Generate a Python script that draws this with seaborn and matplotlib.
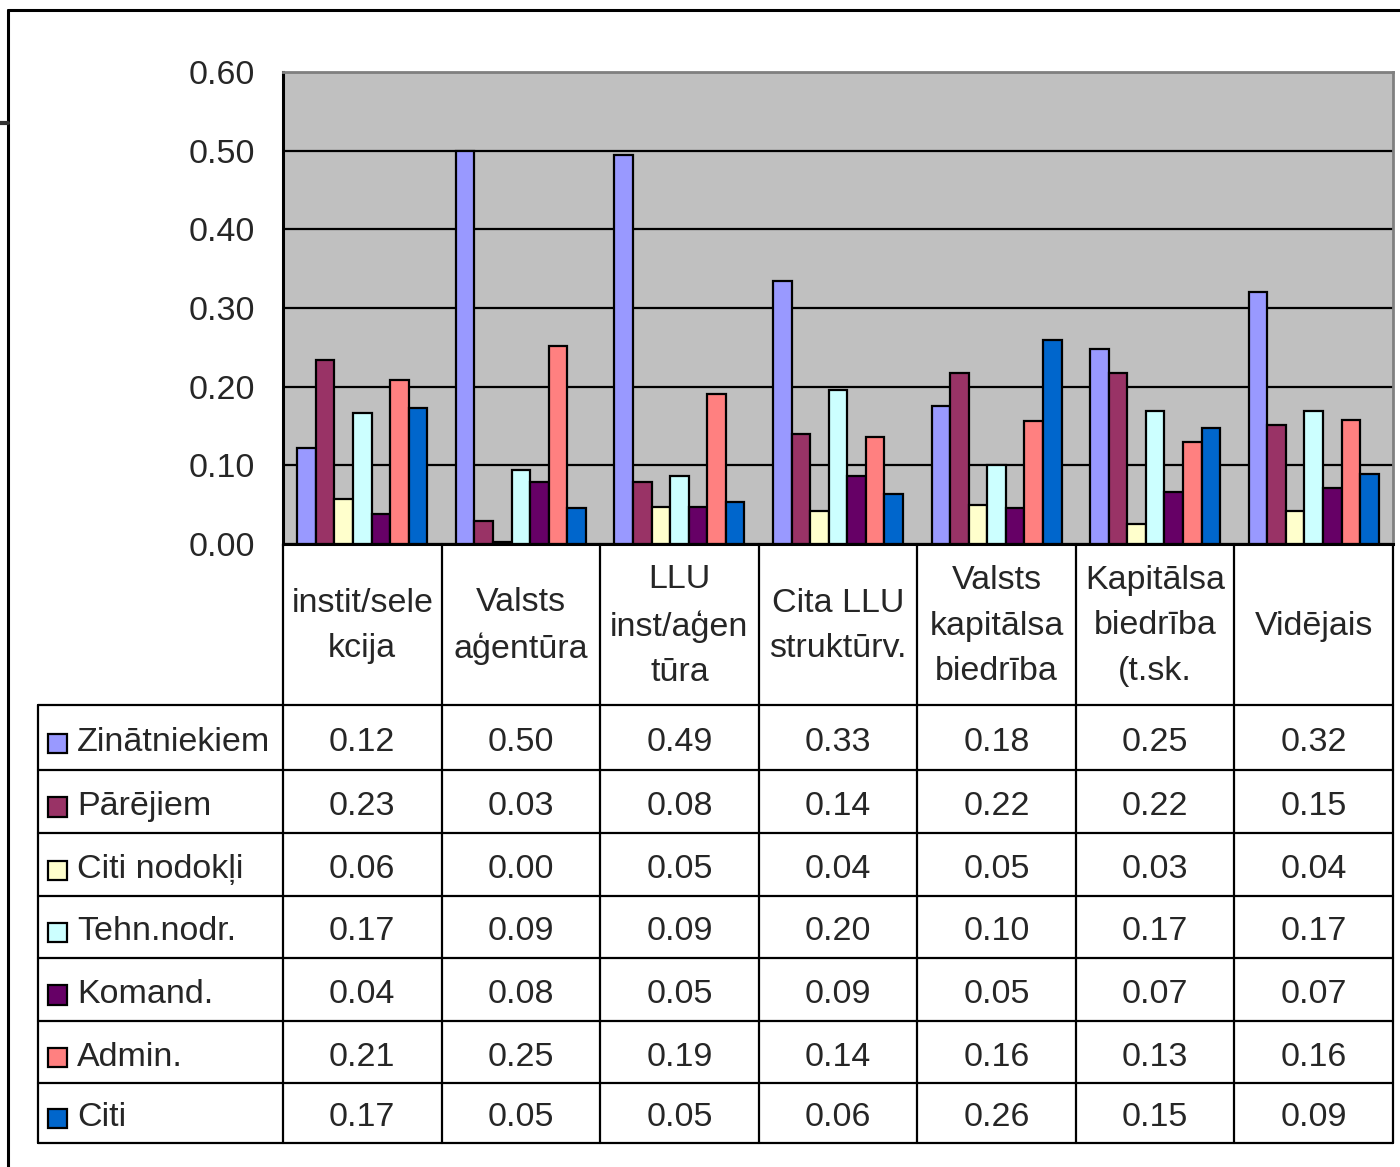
import numpy as np
import pandas as pd
import matplotlib
matplotlib.use("Agg")
import matplotlib.pyplot as plt
import seaborn as sns
from matplotlib.lines import Line2D
from matplotlib.patches import Rectangle
from matplotlib.transforms import blended_transform_factory

# ==========================
#   DATA
# ==========================
categories = ["instit/sele\nkcija", "Valsts\naģentūra", "LLU\ninst/aģen\ntūra",
              "Cita LLU\nstruktūrv.", "Valsts\nkapitālsa\nbiedrība",
              "Kapitālsa\nbiedrība\n(t.sk.", "Vidējais"]

series = ["Zinātniekiem", "Pārējiem", "Citi nodokļi", "Tehn.nodr.",
          "Komand.", "Admin.", "Citi"]

zinatniekiem = [0.122, 0.500, 0.494, 0.334, 0.176, 0.248, 0.320]
parejiem     = [0.234, 0.029, 0.079, 0.140, 0.217, 0.217, 0.151]
citi_nodokli = [0.057, 0.003, 0.047, 0.042, 0.050, 0.026, 0.042]
tehn_nodr    = [0.166, 0.094, 0.086, 0.196, 0.101, 0.169, 0.169]
komand       = [0.038, 0.079, 0.047, 0.086, 0.046, 0.066, 0.071]
admin        = [0.208, 0.252, 0.191, 0.136, 0.156, 0.130, 0.158]
citi         = [0.173, 0.046, 0.053, 0.063, 0.259, 0.147, 0.089]

colors = ["#9999FF", "#993366", "#FFFFCC", "#CCFFFF", "#660066", "#FF8080", "#0066CC"]

values = [zinatniekiem, parejiem, citi_nodokli, tehn_nodr, komand, admin, citi]

rows = []
for s, vals in zip(series, values):
    for c, v in zip(categories, vals):
        rows.append({"category": c, "series": s, "value": v})
df = pd.DataFrame(rows)

# ==========================
#   FIGURE
# ==========================
sns.set_style("white")
plt.rcParams["font.family"] = ["Liberation Sans", "DejaVu Sans"]
FS = 24.5

W, H = 1400, 1167
fig = plt.figure(figsize=(W / 100, H / 100), dpi=100)


def fx(px):
    return px / W


def fy(py):
    return 1 - py / H


ax = fig.add_axes([fx(283), fy(544), fx(1393) - fx(283), fy(72) - fy(544)])
ax.set_facecolor("#C0C0C0")

sns.barplot(data=df, x="category", y="value", hue="series",
            order=categories, hue_order=series, palette=colors,
            saturation=1, edgecolor="black", linewidth=1.6, width=0.82,
            errorbar=None, legend=False, ax=ax)

ax.set_xlim(-0.5, len(categories) - 0.5)
ax.set_ylim(0, 0.6)
ax.set_yticks(np.arange(0, 0.61, 0.1))
ax.set_yticklabels([f"{t:.2f}" for t in np.arange(0, 0.61, 0.1)], fontsize=FS)
ax.tick_params(axis="y", length=6, width=1.6, color="black", pad=14)
ax.set_xticks([])
ax.set_xlabel("")
ax.set_ylabel("")

ax.set_axisbelow(True)
ax.yaxis.grid(True, color="black", linewidth=1.6)

for side in ["left", "bottom"]:
    ax.spines[side].set_color("black")
    ax.spines[side].set_linewidth(2.2)
for side in ["top", "right"]:
    ax.spines[side].set_color("#808080")
    ax.spines[side].set_linewidth(2)

# ==========================
#   DATA TABLE BELOW
# ==========================
tr = blended_transform_factory(ax.transData, fig.transFigure)
row_lines = [705, 770, 833, 896, 958, 1021, 1083, 1143]
lw = 1.6

# column boundaries
for i in range(len(categories) + 1):
    xb = i - 0.5
    fig.add_artist(Line2D([xb, xb], [fy(544), fy(1143)], transform=tr,
                          color="black", lw=lw))

# horizontal row lines
for r in row_lines:
    fig.add_artist(Line2D([fx(38), fx(1393)], [fy(r), fy(r)],
                          color="black", lw=lw))
fig.add_artist(Line2D([fx(38), fx(38)], [fy(705), fy(1143)], color="black", lw=lw))

# category headers
for i, c in enumerate(categories):
    fig.text(i, fy(626), c, transform=tr, ha="center", va="center",
             fontsize=FS, linespacing=1.6)

# legend column + values
for j, (s, vals) in enumerate(zip(series, values)):
    yc = (row_lines[j] + row_lines[j + 1]) / 2 + 5
    fig.add_artist(Rectangle((fx(48), fy(yc + 10)), fx(19), fy(yc - 9) - fy(yc + 10),
                             facecolor=colors[j], edgecolor="black", lw=1.6,
                             transform=fig.transFigure))
    fig.text(fx(77), fy(yc), s, ha="left", va="center", fontsize=FS)
    for i, v in enumerate(vals):
        fig.text(i, fy(yc), f"{v:.2f}", transform=tr, ha="center",
                 va="center", fontsize=FS)

# outer chart border
fig.add_artist(Line2D([fx(8), fx(8)], [fy(10), 0], color="black", lw=2.2))
fig.add_artist(Line2D([fx(8), 1], [fy(10), fy(10)], color="black", lw=2.2))
fig.add_artist(Line2D([0, fx(8)], [fy(123), fy(123)], color="#333333", lw=3))

fig.savefig("out.png", dpi=100)
